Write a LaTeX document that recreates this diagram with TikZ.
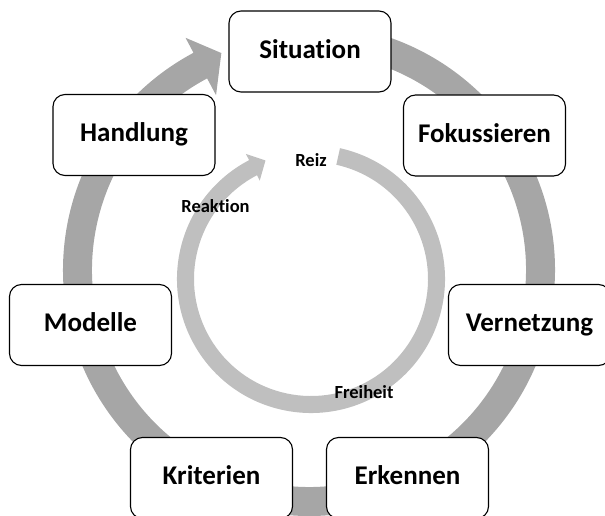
\documentclass[tikz,border=0pt]{standalone}
\usepackage{fontspec}
\setmainfont{Carlito}[Ligatures=NoCommon]
\usetikzlibrary{calc}
\definecolor{outerg}{HTML}{A6A6A6}
\definecolor{innerg}{HTML}{BFBFBF}
\begin{document}
\begin{tikzpicture}[x=1pt,y=1pt,
  stage/.style={draw=black, line width=1.1pt, rounded corners=12pt, fill=white,
    minimum width=162pt, minimum height=81pt, inner sep=0pt,
    font=\fontsize{27}{31}\selectfont\bfseries, text height=18.5pt, text depth=5pt},
  cue/.style={font=\fontsize{18.5}{22}\selectfont\bfseries, inner sep=0pt}]
\useasboundingbox (0,0) rectangle (605,515);
\clip (0,0) rectangle (605,515);
\coordinate (C) at (309,245);
\coordinate (c) at (311,236);
% outer cycle arrow
\fill[outerg] ($(C)+(85:246pt)$) arc[start angle=85, end angle=-242, radius=246pt]
  -- ($(C)+(-242:263pt)$) -- ($(C)+(-248:234pt)$) -- ($(C)+(-242:198pt)$)
  -- ($(C)+(-242:217pt)$) arc[start angle=-242, end angle=85, radius=217pt] -- cycle;
% inner cycle arrow
\fill[innerg] ($(c)+(77.5:134pt)$) arc[start angle=77.5, end angle=-242.5, radius=134pt]
  -- ($(c)+(-242.5:141pt)$) -- ($(c)+(-249:127pt)$) -- ($(c)+(-242.5:111pt)$)
  -- ($(c)+(-242.5:117pt)$) arc[start angle=-242.5, end angle=77.5, radius=117pt] -- cycle;
% stages
\node[stage] (situation) at (310,463.5) {Situation};
\node[stage] (fokus) at (484.5,379.5) {Fokussieren};
\node[stage] (vernetzung) at (529.5,190) {Vernetzung};
\node[stage] (erkennen) at (407.5,37) {Erkennen};
\node[stage] (kriterien) at (211.5,37) {Kriterien};
\node[stage] (modelle) at (90.5,190) {Modelle};
\node[stage] (handlung) at (134,380) {Handlung};
% inner labels
\node[cue] (reiz) at (311,355) {Reiz};
\node[cue] (reaktion) at (215.5,309) {Reaktion};
\node[cue] (freiheit) at (364,123) {Freiheit};
\end{tikzpicture}
\end{document}
